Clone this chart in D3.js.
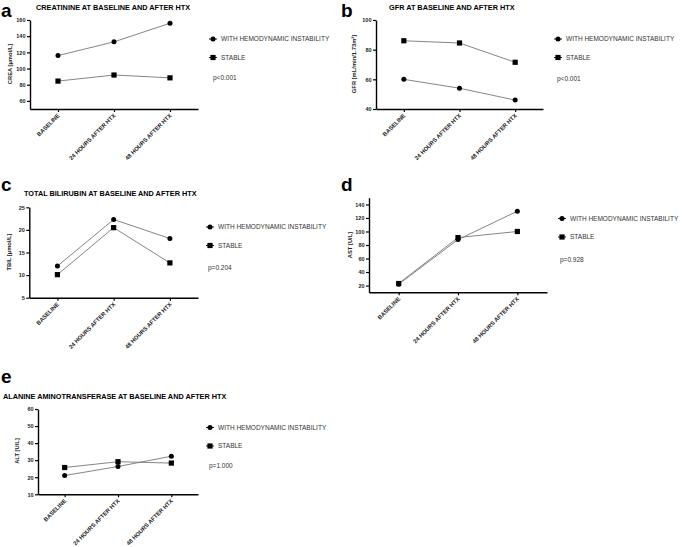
<!DOCTYPE html>
<html><head><meta charset="utf-8">
<script src="https://cdn.jsdelivr.net/npm/d3@7"></script>
<style>
body{margin:0;background:#fff;}
svg{display:block;font-family:"Liberation Sans",Arial,sans-serif;}
</style></head>
<body><svg id="c" width="685" height="547"></svg>
<script>
const categories = ["BASELINE", "24 HOURS AFTER HTX", "48 HOURS AFTER HTX"];
const seriesNames = ["WITH HEMODYNAMIC INSTABILITY", "STABLE"];

const creaUnstable = [116, 133, 156];
const creaStable = [84.5, 92, 88.5];
const creaTicks = [60, 80, 100, 120, 140, 160];

const gfrUnstable = [60, 54, 46];
const gfrStable = [86, 84.5, 71.5];
const gfrTicks = [40, 60, 80, 100];

const tbilUnstable = [12, 22.3, 18.1];
const tbilStable = [10.1, 20.5, 12.7];
const tbilTicks = [5, 10, 15, 20, 25];

const astUnstable = [22, 88, 130];
const astStable = [23, 91, 100];
const astTicks = [20, 40, 60, 80, 100, 120, 140];

const altUnstable = [21, 26.3, 32.3];
const altStable = [25.7, 29.1, 28.3];
const altTicks = [10, 20, 30, 40, 50, 60];

const panelLetters = ["a", "b", "c", "d", "e"];
const panelTitles = [
  "CREATININE AT BASELINE AND AFTER HTX",
  "GFR AT BASELINE AND AFTER HTX",
  "TOTAL BILIRUBIN AT BASELINE AND AFTER HTX",
  "",
  "ALANINE AMINOTRANSFERASE AT BASELINE AND AFTER HTX"
];
const yLabels = ["CREA [µmol/L]", "GFR [mL/min/1.73m²]", "TBIL [µmol/L]", "AST [U/L]", "ALT [U/L]"];
const pValues = ["p<0.001", "p<0.001", "p=0.204", "p=0.928", "p=1.000"];

const svg = d3.select("#c");

const panels = [
  {u: creaUnstable, s: creaStable, ticks: creaTicks, dom: [50, 160], yr: [109, 20], xr: [30, 198],
   letter: [1, 17], title: [36, 10], ylab: [12, 64], leg: [213, 39], p: [213, 80]},
  {u: gfrUnstable, s: gfrStable, ticks: gfrTicks, dom: [40, 100], yr: [109, 20], xr: [376, 543],
   letter: [341, 17], title: [389, 10], ylab: [356, 64], leg: [558, 39], p: [557, 81]},
  {u: tbilUnstable, s: tbilStable, ticks: tbilTicks, dom: [5, 25], yr: [297.7, 207.3], xr: [29.3, 198],
   letter: [1, 191], title: [24, 196], ylab: [11, 252], leg: [210, 227], p: [208, 270]},
  {u: astUnstable, s: astStable, ticks: astTicks, dom: [10, 150], yr: [292.3, 197.7], xr: [369, 547],
   letter: [341, 191], title: [0, 0], ylab: [352, 245], leg: [562, 218.5], p: [560, 262]},
  {u: altUnstable, s: altStable, ticks: altTicks, dom: [10, 60], yr: [494.3, 409], xr: [38, 198],
   letter: [1, 383], title: [3, 399], ylab: [19, 451], leg: [210, 427.5], p: [209, 468]}
];

function marker(g, kind, x, y) {
  if (kind === 0) {
    g.append("circle").attr("cx", x).attr("cy", y).attr("r", 2.5).attr("fill", "#000");
  } else {
    g.append("rect").attr("x", x - 2.6).attr("y", y - 2.6).attr("width", 5.2).attr("height", 5.2).attr("fill", "#000");
  }
}

panels.forEach((p, i) => {
  const g = svg.append("g");
  const x = d3.scalePoint().domain(categories).range(p.xr).padding(0.5);
  const y = d3.scaleLinear().domain(p.dom).range(p.yr);

  g.append("text").attr("x", p.letter[0]).attr("y", p.letter[1])
    .attr("font-size", 19).attr("font-weight", "bold").text(panelLetters[i]);
  if (panelTitles[i]) {
    g.append("text").attr("x", p.title[0]).attr("y", p.title[1])
      .attr("font-size", 7.3).attr("font-weight", "bold").text(panelTitles[i]);
  }

  const yAxis = d3.axisLeft(y).tickValues(p.ticks).tickSize(3).tickSizeOuter(0).tickPadding(1.5);
  const ya = g.append("g").attr("transform", `translate(${p.xr[0]},0)`).call(yAxis);
  ya.select(".domain").attr("stroke-width", 1.4);
  ya.selectAll(".tick line").attr("stroke-width", 1.2);
  ya.selectAll("text").attr("font-size", 5.5).attr("font-weight", "bold")
    .attr("font-family", "Liberation Sans, Arial, sans-serif").attr("fill", "#222");

  const xAxis = d3.axisBottom(x).tickSize(3).tickSizeOuter(0).tickFormat("");
  const xa = g.append("g").attr("transform", `translate(0,${p.yr[0]})`).call(xAxis);
  xa.select(".domain").attr("stroke-width", 1.4);
  xa.selectAll(".tick line").attr("stroke-width", 1.2);
  categories.forEach(c => {
    g.append("text")
      .attr("transform", `translate(${x(c) + 2},${p.yr[0] + 7}) rotate(-45)`)
      .attr("text-anchor", "end").attr("font-size", 5.8).attr("font-weight", "bold")
      .attr("fill", "#222").text(c);
  });

  g.append("text").attr("transform", `translate(${p.ylab[0]},${p.ylab[1]}) rotate(-90)`)
    .attr("text-anchor", "middle").attr("font-size", 5.8).attr("font-weight", "bold")
    .attr("fill", "#222").text(yLabels[i]);

  const line = d3.line().x((d, k) => x(categories[k])).y(d => y(d));
  [p.u, p.s].forEach(vals => {
    g.append("path").attr("d", line(vals)).attr("fill", "none")
      .attr("stroke", "#777").attr("stroke-width", 0.9);
  });
  [p.u, p.s].forEach((vals, k) => {
    vals.forEach((v, j) => marker(g, k, x(categories[j]), y(v)));
  });

  seriesNames.forEach((n, k) => {
    const ly = p.leg[1] + k * 18.5;
    g.append("line").attr("x1", p.leg[0] - 4).attr("x2", p.leg[0] + 4).attr("y1", ly).attr("y2", ly)
      .attr("stroke", "#000").attr("stroke-width", 0.9);
    marker(g, k, p.leg[0], ly);
    g.append("text").attr("x", p.leg[0] + 8).attr("y", ly + 2.2)
      .attr("font-size", 6.5).attr("fill", "#333").text(n);
  });
  g.append("text").attr("x", p.p[0]).attr("y", p.p[1])
    .attr("font-size", 6.5).attr("fill", "#333").text(pValues[i]);
});
</script></body></html>
